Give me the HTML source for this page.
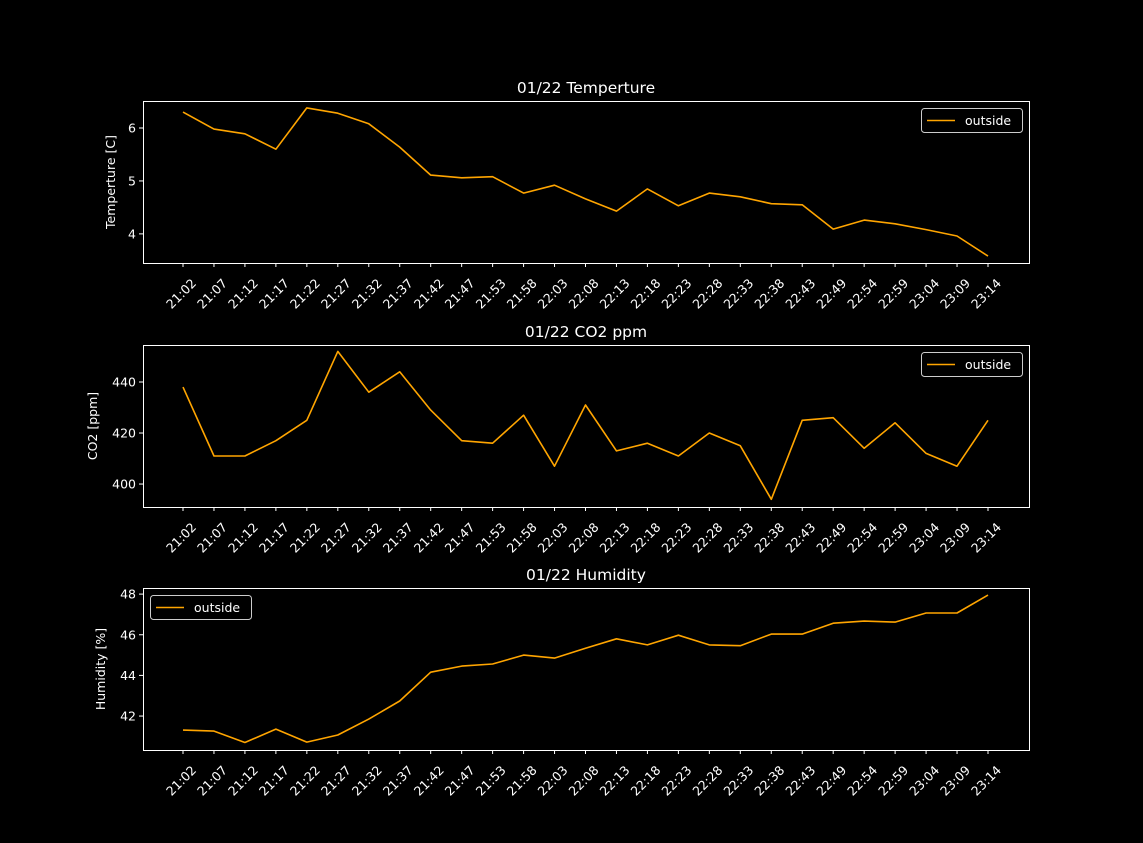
<!DOCTYPE html>
<html><head><meta charset="utf-8"><style>
html,body{margin:0;padding:0;background:#000;}
svg{display:block;font-family:"DejaVu Sans","Liberation Sans",sans-serif;}
</style></head><body>
<svg id="chart" width="1143" height="843" xmlns="http://www.w3.org/2000/svg">
<rect width="1143" height="843" fill="#000"/>
</svg>
<script>
const categories = ["21:02","21:07","21:12","21:17","21:22","21:27","21:32","21:37","21:42","21:47","21:53","21:58","22:03","22:08","22:13","22:18","22:23","22:28","22:33","22:38","22:43","22:49","22:54","22:59","23:04","23:09","23:14"];
const tempValues = [6.30,5.98,5.89,5.60,6.38,6.28,6.08,5.64,5.11,5.06,5.08,4.77,4.92,4.66,4.43,4.85,4.53,4.77,4.70,4.57,4.55,4.09,4.26,4.19,4.08,3.96,3.58];
const co2Values = [438,411,411,417,425,452,436,444,429,417,416,427,407,431,413,416,411,420,415,394,425,426,414,424,412,407,425];
const humValues = [41.31,41.26,40.70,41.36,40.72,41.07,41.85,42.74,44.16,44.46,44.56,45.00,44.85,45.34,45.80,45.50,45.98,45.50,45.46,46.03,46.03,46.57,46.67,46.62,47.07,47.07,47.95];
const tempTicks = [4,5,6];
const co2Ticks = [400,420,440];
const humTicks = [42,44,46,48];

const NS="http://www.w3.org/2000/svg";
const svg=document.getElementById('chart');
function mk(tag,attrs,parent){const e=document.createElementNS(NS,tag);for(const k in attrs)e.setAttribute(k,attrs[k]);(parent||svg).appendChild(e);return e;}
const X0=143,X1=1029,xFirst=183,xLast=988;
function xs(i){return xFirst+(xLast-xFirst)*i/(categories.length-1);}

function panel(name,top,vals,ticks,ymin,ymax,title,ylabel,legendLeft,ylx){
  const bottom=top+162;
  const g=mk('g',{});
  
  
  const ys=v=>bottom-(v-ymin)/(ymax-ymin)*(bottom-top);
  const t=mk('text',{x:586,y:top-8,fill:'#fff','font-size':15.5,'text-anchor':'middle'},g);
  t.textContent=title;
  
  
  ticks.forEach(v=>{
    const y=ys(v);
    const l=mk('line',{x1:X0-4,x2:X0,y1:y,y2:y,stroke:'#fff','stroke-width':1},g);
    
    
    const tx=mk('text',{x:X0-7,y:y+4.5,fill:'#fff','font-size':12.5,'text-anchor':'end'},g);
    tx.textContent=v;
    
    
  });
  const yl=mk('text',{x:0,y:0,fill:'#fff','font-size':12.5,'text-anchor':'middle',transform:`translate(${ylx},${(top+bottom)/2}) rotate(-90)`},g);
  yl.textContent=ylabel;
  
  
  categories.forEach((c,i)=>{
    const x=xs(i);
    const l=mk('line',{x1:x,x2:x,y1:bottom,y2:bottom+4,stroke:'#fff','stroke-width':1},g);
    
    
    const tx=mk('text',{x:0,y:0,fill:'#fff','font-size':12.5,'text-anchor':'end',transform:`translate(${x+14},${bottom+21}) rotate(-45)`},g);
    tx.textContent=c;
    
    
  });
  const pts=vals.map((v,i)=>xs(i).toFixed(1)+','+ys(v).toFixed(1)).join(' ');
  const pl=mk('polyline',{points:pts,fill:'none',stroke:'#ffa500','stroke-width':1.6,'stroke-linejoin':'round'},g);
  
  
  const fr=mk('rect',{x:X0+0.5,y:top+0.5,width:X1-X0,height:bottom-top,fill:'none',stroke:'#fff','stroke-width':1},g);
  
  
  const lx=legendLeft?150:921, ly=top+7;
  const lg=mk('g',{},g);
  
  
  mk('rect',{x:lx+0.5,y:ly+0.5,width:101,height:24,rx:3,fill:'#000',stroke:'#ccc','stroke-width':1},lg);
  mk('line',{x1:lx+6,x2:lx+34,y1:ly+12.5,y2:ly+12.5,stroke:'#ffa500','stroke-width':1.6},lg);
  const lt=mk('text',{x:lx+44,y:ly+17,fill:'#fff','font-size':12.5},lg);
  lt.textContent='outside';
  
  
}
panel('temperature',101,tempValues,tempTicks,3.45,6.51,'01/22 Temperture','Temperture [C]',false,115);
panel('co2',345,co2Values,co2Ticks,391,454.5,'01/22 CO2 ppm','CO2 [ppm]',false,97);
panel('humidity',588,humValues,humTicks,40.33,48.3,'01/22 Humidity','Humidity [%]',true,105);
</script>
</body></html>
